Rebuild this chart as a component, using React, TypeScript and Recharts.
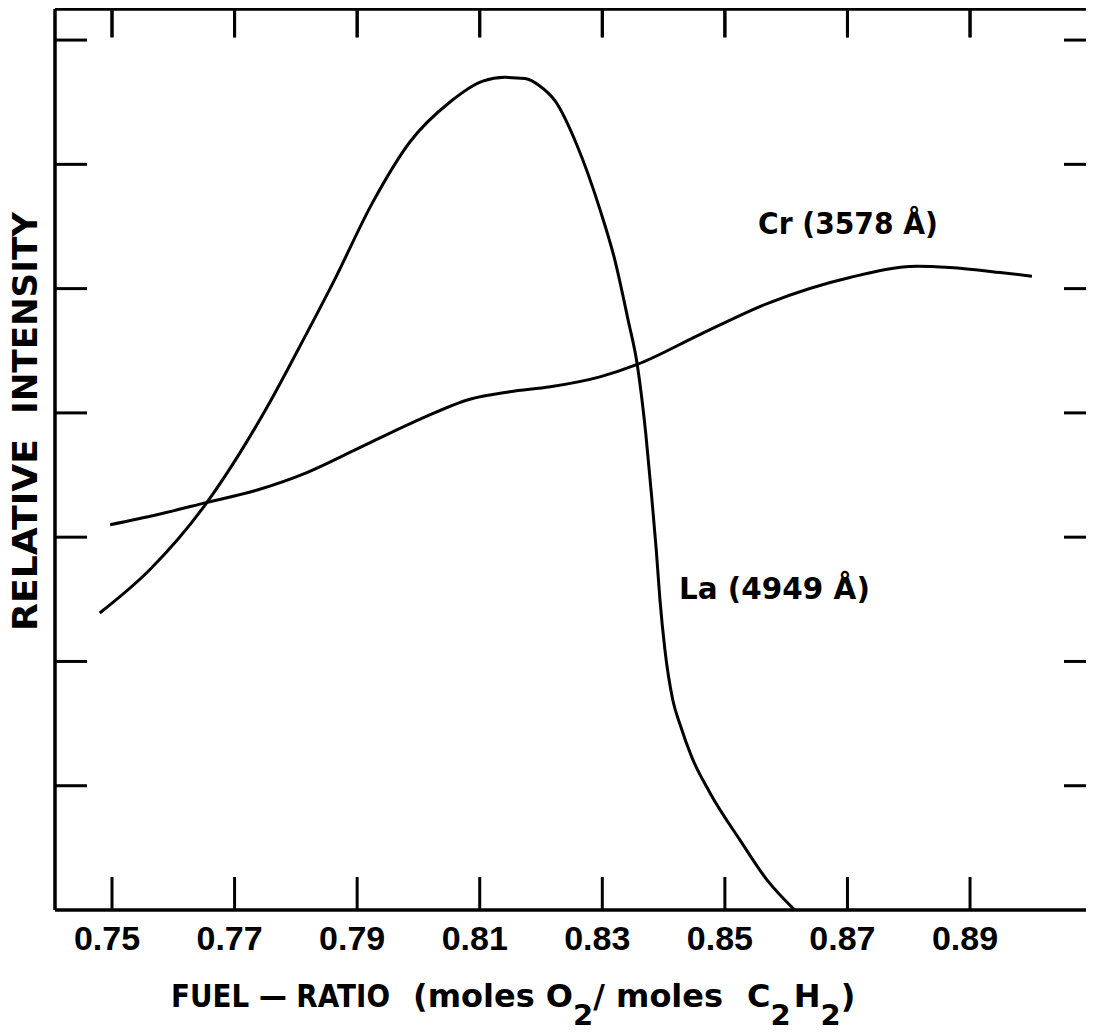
import React from 'react';
import { LineChart, Line, XAxis, YAxis, ReferenceDot, ReferenceLine } from 'recharts';

// ---- Data ----
const xTicks = [0.75, 0.77, 0.79, 0.81, 0.83, 0.85, 0.87, 0.89];
const xTickLabels = ['0.75', '0.77', '0.79', '0.81', '0.83', '0.85', '0.87', '0.89'];
const yTicks = [1, 2, 3, 4, 5, 6, 7];

const laRatio = [
  0.748, 0.7562, 0.7655, 0.7709, 0.7758, 0.7807, 0.7861, 0.7926, 0.7986, 0.8051,
  0.8105, 0.8141, 0.8174, 0.8198, 0.8223, 0.8259, 0.8296, 0.8321, 0.8342, 0.8357,
  0.8371, 0.8381, 0.8388, 0.8394, 0.8402, 0.8415, 0.8427, 0.8446, 0.8476, 0.8525,
  0.8569, 0.8614,
];
const laIntensity = [
  2.39, 2.74, 3.28, 3.68, 4.09, 4.54, 5.05, 5.7, 6.18, 6.5,
  6.67, 6.7, 6.69, 6.63, 6.51, 6.15, 5.64, 5.22, 4.75, 4.39,
  3.83, 3.3, 2.9, 2.5, 2.1, 1.69, 1.49, 1.23, 0.94, 0.56,
  0.24, 0.0,
];

const crRatio = [
  0.7497, 0.7573, 0.7655, 0.7737, 0.7818, 0.79, 0.8003, 0.8084, 0.8149, 0.8215,
  0.8296, 0.8357, 0.8459, 0.8569, 0.8704, 0.8813, 0.8867, 0.8949, 0.9001,
];
const crIntensity = [
  3.1, 3.18, 3.28, 3.38, 3.52, 3.71, 3.95, 4.11, 4.17, 4.21,
  4.29, 4.39, 4.63, 4.88, 5.09, 5.18, 5.17, 5.13, 5.1,
];

const xDomain = [0.7407, 0.9099];
const yDomain = [0, 7.25];

const laData = laRatio.map((r, i) => ({ ratio: r, value: laIntensity[i] }));
const crData = crRatio.map((r, i) => ({ ratio: r, value: crIntensity[i] }));

// ---- Layout ----
const CHART_W = 1094;
const CHART_H = 1033;
const MARGIN = { top: 9, right: 1, left: 0, bottom: 0 };

const INK = '#000';
const LABEL_FONT = '"DejaVu Sans", "Liberation Sans", sans-serif';
const NUM_FONT = '"Liberation Sans", Arial, sans-serif';

const BottomTick = (props: any) => {
  const { x, y, payload } = props;
  const idx = xTicks.indexOf(payload.value);
  return (
    <g>
      <line x1={x} y1={y} x2={x} y2={y - 33} stroke={INK} strokeWidth={3} />
      <text
        x={x - 5}
        y={y + 40}
        textAnchor="middle"
        fontFamily={NUM_FONT}
        fontWeight="bold"
        fontSize={34}
        fill={INK}
      >
        {idx >= 0 ? xTickLabels[idx] : ''}
      </text>
    </g>
  );
};

const LeftTick = (props: any) => {
  const { x, y } = props;
  return <line x1={x} y1={y} x2={x + 32} y2={y} stroke={INK} strokeWidth={3} />;
};

const RightTick = (props: any) => {
  const { x, y } = props;
  return <line x1={x} y1={y} x2={x - 28} y2={y} stroke={INK} strokeWidth={3} />;
};

const XTitle = (props: any) => {
  const vb = props.viewBox || { x: 55, y: 910 };
  const bx = vb.x;
  const by = vb.y + 97;
  return (
    <text y={by} fontFamily={LABEL_FONT} fontWeight="bold" fontSize={32} fill={INK}>
      <tspan x={bx + 116} textLength={219} lengthAdjust="spacingAndGlyphs">FUEL — RATIO</tspan>
      <tspan x={bx + 358}>(moles O</tspan>
      <tspan dy={18} fontSize={29}>2</tspan>
      <tspan dy={-18}>/ moles</tspan>
      <tspan x={bx + 692}>C</tspan>
      <tspan dy={18} fontSize={29}>2</tspan>
      <tspan dy={-18} dx={3}>H</tspan>
      <tspan dy={18} fontSize={29}>2</tspan>
      <tspan dy={-18}>)</tspan>
    </text>
  );
};

const YTitle = (props: any) => {
  const vb = props.viewBox || { x: 0, y: 10 };
  const bx = vb.x + 37;
  const y1 = vb.y + 622;
  const y2 = vb.y + 405;
  return (
    <g>
      <text
        x={bx}
        y={y1}
        transform={`rotate(-90, ${bx}, ${y1})`}
        fontFamily={LABEL_FONT}
        fontWeight="bold"
        fontSize={33}
        fill={INK}
        textLength={192}
        lengthAdjust="spacingAndGlyphs"
      >
        RELATIVE
      </text>
      <text
        x={bx}
        y={y2}
        transform={`rotate(-90, ${bx}, ${y2})`}
        fontFamily={LABEL_FONT}
        fontWeight="bold"
        fontSize={33}
        fill={INK}
        textLength={202}
        lengthAdjust="spacingAndGlyphs"
      >
        INTENSITY
      </text>
    </g>
  );
};

const AnnoLabel = (props: any) => {
  const vb = props.viewBox || { x: 0, y: 0 };
  return (
    <text
      x={vb.x}
      y={vb.y}
      fontFamily={LABEL_FONT}
      fontWeight="bold"
      fontSize={30}
      fill={INK}
      textLength={props.len}
      lengthAdjust="spacingAndGlyphs"
    >
      {props.text}
    </text>
  );
};

export default function App() {
  return (
    <div style={{ width: CHART_W, height: CHART_H, margin: -8, background: '#fff' }}>
      <LineChart width={CHART_W} height={CHART_H} margin={MARGIN}>
        <XAxis
          dataKey="ratio"
          type="number"
          domain={xDomain}
          ticks={xTicks}
          interval={0}
          allowDataOverflow
          height={123}
          tickSize={0}
          tickMargin={0}
          tickLine={false}
          axisLine={{ stroke: INK, strokeWidth: 3.5 }}
          tick={<BottomTick />}
          label={<XTitle />}
        />
        <XAxis
          xAxisId="top"
          orientation="top"
          mirror
          dataKey="ratio"
          type="number"
          domain={xDomain}
          ticks={xTicks}
          interval={0}
          allowDataOverflow
          height={1}
          tickSize={28}
          tickMargin={0}
          tickLine={{ stroke: INK, strokeWidth: 3 }}
          tickFormatter={() => ''}
          axisLine={{ stroke: INK, strokeWidth: 3.5 }}
        />
        <YAxis
          type="number"
          domain={yDomain}
          ticks={yTicks}
          interval={0}
          allowDataOverflow
          width={55}
          tickSize={0}
          tickMargin={0}
          tickLine={false}
          axisLine={{ stroke: INK, strokeWidth: 3.5 }}
          tick={<LeftTick />}
          label={<YTitle />}
        />
        <YAxis
          yAxisId="right"
          orientation="right"
          type="number"
          domain={yDomain}
          ticks={yTicks}
          interval={0}
          allowDataOverflow
          width={1}
          tickSize={0}
          tickMargin={0}
          tickLine={false}
          axisLine={{ stroke: INK, strokeWidth: 3.5 }}
          tick={<RightTick />}
        />
        <Line
          data={laData}
          dataKey="value"
          type="monotone"
          stroke={INK}
          strokeWidth={3}
          dot={false}
          isAnimationActive={false}
        />
        <Line
          data={crData}
          xAxisId="top"
          dataKey="value"
          type="monotone"
          stroke={INK}
          strokeWidth={3}
          dot={false}
          isAnimationActive={false}
        />
        {xTicks.map((t) => (
          <ReferenceLine
            key={`topline-${t}`}
            segment={[
              { x: t, y: 7.25 },
              { x: t, y: 7.02 },
            ]}
            stroke={INK}
            strokeWidth={3}
            ifOverflow="visible"
          />
        ))}
        <ReferenceDot
          x={0.8554}
          y={5.44}
          r={0}
          fill="none"
          stroke="none"
          ifOverflow="visible"
          label={<AnnoLabel text="Cr (3578 Å)" len={180} />}
        />
        <ReferenceDot
          x={0.8425}
          y={2.5}
          r={0}
          fill="none"
          stroke="none"
          ifOverflow="visible"
          label={<AnnoLabel text="La (4949 Å)" len={191} />}
        />
      </LineChart>
    </div>
  );
}
